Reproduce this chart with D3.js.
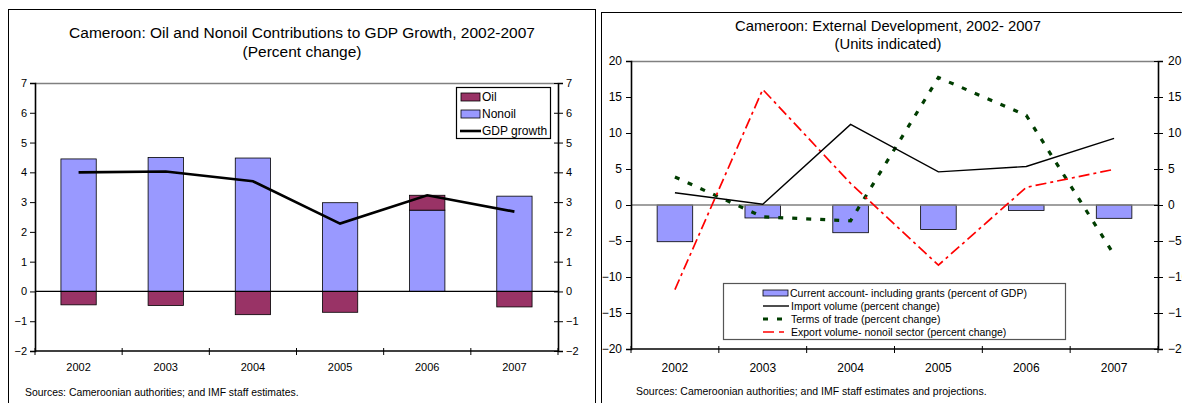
<!DOCTYPE html>
<html>
<head>
<meta charset="utf-8">
<script src="https://cdn.jsdelivr.net/npm/d3@7"></script>
<style>
  html, body { margin: 0; padding: 0; background: #fff; }
  svg { display: block; font-family: "Liberation Sans", Arial, sans-serif; }
</style>
</head>
<body>
<svg id="chart" width="1182" height="403"></svg>
<script>
// Categories shared by both panels
const years = ["2002", "2003", "2004", "2005", "2006", "2007"];

// Panel 1: contributions to GDP growth (percent)
const nonoil = [4.45, 4.50, 4.48, 2.98, 2.73, 3.20];
const oil = [-0.45, -0.47, -0.78, -0.70, 0.50, -0.52];
const gdpGrowth = [4.00, 4.03, 3.70, 2.28, 3.23, 2.68];
const growthTicks = [-2, -1, 0, 1, 2, 3, 4, 5, 6, 7];

// Panel 2: external sector indicators
const currentAccount = [-5.1, -1.8, -3.85, -3.4, -0.75, -1.85];
const importVolume = [1.7, 0.1, 11.2, 4.6, 5.35, 9.25];
const termsOfTrade = [3.9, -1.65, -2.2, 17.7, 12.45, -6.9];
const exportVolume = [-11.75, 16.05, 3.0, -8.35, 2.45, 4.95];
const externalTicks = [-20, -15, -10, -5, 0, 5, 10, 15, 20];

const svg = d3.select("#chart");
const NONOIL = "#9999ff", OIL = "#993366";

// ---------- shared helpers ----------
function frame(x, y, w, h) {
  svg.append("rect").attr("x", x + 0.5).attr("y", y + 0.5)
    .attr("width", w).attr("height", h)
    .attr("fill", "none").attr("stroke", "#000").attr("stroke-width", 1);
}

function title(cx, y1, y2, size, line1, line2) {
  const t = svg.append("text").attr("text-anchor", "middle")
    .attr("font-size", size).attr("fill", "#000");
  t.append("tspan").attr("x", cx).attr("y", y1).text(line1);
  t.append("tspan").attr("x", cx).attr("y", y2).text(line2);
}

function drawAxes(g, x, y, ticks, opts) {
  const [x0, x1] = x.range();
  const [yb, yt] = y.range();
  // plot area top edge
  g.append("line").attr("x1", x0).attr("x2", x1).attr("y1", yt + 0.5).attr("y2", yt + 0.5)
    .attr("stroke", "#808080").attr("stroke-width", 1.3);
  // left axis
  const left = g.append("g").attr("transform", `translate(${x0},0)`)
    .call(d3.axisLeft(y).tickValues(ticks).tickSize(5).tickPadding(opts.padL));
  // right axis (ticks crossing the line)
  const right = g.append("g").attr("transform", `translate(${x1},0)`)
    .call(d3.axisRight(y).tickValues(ticks).tickSize(5).tickPadding(opts.padR));
  right.selectAll(".tick line").attr("x1", -4);
  [left, right].forEach(a => {
    a.select(".domain").attr("stroke", "#000").attr("stroke-width", 1.6);
    a.selectAll(".tick line").attr("stroke", "#000");
    a.selectAll(".tick text").attr("font-size", opts.yFont).attr("fill", "#000")
      .attr("font-family", "Liberation Sans, Arial, sans-serif");
  });
  // bottom axis with ticks at category boundaries
  const bounds = d3.range(years.length + 1).map(i => x0 + i * x.step());
  g.append("line").attr("x1", x0).attr("x2", x1).attr("y1", yb).attr("y2", yb)
    .attr("stroke", "#000").attr("stroke-width", 1.6);
  g.selectAll(null).data(bounds).join("line")
    .attr("x1", d => d).attr("x2", d => d)
    .attr("y1", yb - 3).attr("y2", yb + 4)
    .attr("stroke", "#000");
  g.selectAll(null).data(years).join("text")
    .attr("x", d => x(d) + x.bandwidth() / 2)
    .attr("y", opts.xLabelY)
    .attr("text-anchor", "middle")
    .attr("font-size", opts.xFont)
    .text(d => d);
}

// ================= Panel 1 =================
frame(8, 9, 587, 420);
title(302, 38, 57, 15.5, "Cameroon: Oil and Nonoil Contributions to GDP Growth, 2002-2007", "(Percent change)");

const x1 = d3.scaleBand().domain(years).range([35, 558])
  .paddingInner(0.595).paddingOuter(0.2975);
const y1 = d3.scaleLinear().domain([-2, 7]).range([351, 83]);
const g1 = svg.append("g");

const rows1 = years.map((yr, i) => ({ year: yr, nonoil: nonoil[i], oil: oil[i] }));
const stacked = d3.stack().keys(["nonoil", "oil"]).offset(d3.stackOffsetDiverging)(rows1);
const fills = { nonoil: NONOIL, oil: OIL };

g1.selectAll(".layer").data(stacked).join("g")
  .attr("fill", d => fills[d.key])
  .selectAll("rect").data(d => d).join("rect")
  .attr("x", d => x1(d.data.year))
  .attr("width", x1.bandwidth())
  .attr("y", d => y1(Math.max(d[0], d[1])))
  .attr("height", d => Math.abs(y1(d[0]) - y1(d[1])))
  .attr("stroke", "#000").attr("stroke-width", 0.8);

// zero line
g1.append("line").attr("x1", 35).attr("x2", 558).attr("y1", y1(0)).attr("y2", y1(0))
  .attr("stroke", "#000").attr("stroke-width", 1.2);

drawAxes(g1, x1, y1, growthTicks, { padL: 3, padR: 3, yFont: 11, xFont: 11, xLabelY: 371 });

g1.append("path").datum(gdpGrowth)
  .attr("fill", "none").attr("stroke", "#000").attr("stroke-width", 2.6)
  .attr("d", d3.line().x((d, i) => x1(years[i]) + x1.bandwidth() / 2).y(d => y1(d)));

// legend
const lg1 = svg.append("g");
lg1.append("rect").attr("x", 456.5).attr("y", 87.5).attr("width", 94).attr("height", 51)
  .attr("fill", "#fff").attr("stroke", "#000").attr("stroke-width", 1.2);
const leg1 = [
  { label: "Oil", type: "bar", color: OIL },
  { label: "Nonoil", type: "bar", color: NONOIL },
  { label: "GDP growth", type: "line" }
];
leg1.forEach((d, i) => {
  const cy = 97 + i * 17;
  if (d.type === "bar") {
    lg1.append("rect").attr("x", 461).attr("y", cy - 4).attr("width", 19).attr("height", 8)
      .attr("fill", d.color).attr("stroke", "#000").attr("stroke-width", 0.8);
  } else {
    lg1.append("line").attr("x1", 460).attr("x2", 481).attr("y1", cy).attr("y2", cy)
      .attr("stroke", "#000").attr("stroke-width", 2.6);
  }
  lg1.append("text").attr("x", 482).attr("y", cy + 4).attr("font-size", 12).text(d.label);
});

svg.append("text").attr("x", 25).attr("y", 396).attr("font-size", 10.4)
  .text("Sources: Cameroonian authorities; and IMF staff estimates.");

// ================= Panel 2 =================
frame(601, 12, 620, 420);
title(888, 31, 49, 14.8, "Cameroon: External Development, 2002- 2007", "(Units indicated)");

const x2 = d3.scaleBand().domain(years).range([631, 1158])
  .paddingInner(0.595).paddingOuter(0.2975);
const y2 = d3.scaleLinear().domain([-20, 20]).range([349, 61]);
const g2 = svg.append("g");

g2.selectAll("rect.ca").data(currentAccount).join("rect").attr("class", "ca")
  .attr("x", (d, i) => x2(years[i]))
  .attr("width", x2.bandwidth())
  .attr("y", d => y2(Math.max(0, d)))
  .attr("height", d => Math.abs(y2(d) - y2(0)))
  .attr("fill", NONOIL).attr("stroke", "#000").attr("stroke-width", 0.8);

g2.append("line").attr("x1", 631).attr("x2", 1158).attr("y1", y2(0)).attr("y2", y2(0))
  .attr("stroke", "#808080").attr("stroke-width", 1.3);

drawAxes(g2, x2, y2, externalTicks, { padL: 4, padR: 5, yFont: 12, xFont: 12, xLabelY: 372 });

const cx2 = i => x2(years[i]) + x2.bandwidth() / 2;
const line2 = d3.line().x((d, i) => cx2(i)).y(d => y2(d));
const series2 = [
  { values: termsOfTrade, color: "#003d00", width: 3.2, dash: "5,9", label: "Terms of trade (percent change)" },
  { values: exportVolume, color: "#ff0000", width: 1.7, dash: "11,4,3,4", label: "Export volume- nonoil sector (percent change)" },
  { values: importVolume, color: "#000", width: 1.4, dash: null, label: "Import volume (percent change)" }
];
series2.forEach(s => {
  g2.append("path").datum(s.values)
    .attr("fill", "none").attr("stroke", s.color).attr("stroke-width", s.width)
    .attr("stroke-dasharray", s.dash)
    .attr("d", line2);
});

// legend
const lg2 = svg.append("g");
lg2.append("rect").attr("x", 723.5).attr("y", 283.5).attr("width", 342).attr("height", 56)
  .attr("fill", "#fff").attr("stroke", "#555").attr("stroke-width", 1.2);
const leg2 = [
  { label: "Current account- including grants (percent of GDP)", type: "bar" },
  series2[2], series2[0], series2[1]
];
leg2.forEach((d, i) => {
  const cy = 293 + i * 13;
  if (d.type === "bar") {
    lg2.append("rect").attr("x", 763).attr("y", cy - 3).attr("width", 25).attr("height", 6)
      .attr("fill", NONOIL).attr("stroke", "#000").attr("stroke-width", 0.8);
  } else {
    lg2.append("line").attr("x1", 763).attr("x2", 789).attr("y1", cy).attr("y2", cy)
      .attr("stroke", d.color).attr("stroke-width", d.width)
      .attr("stroke-dasharray", d.dash ? (d.color === "#ff0000" ? "11,5,5,5" : "5,9") : null);
  }
  lg2.append("text").attr("x", d.type === "bar" ? 790 : 791).attr("y", cy + 3.5)
    .attr("font-size", 10.5).text(d.label);
});

svg.append("text").attr("x", 636).attr("y", 395).attr("font-size", 10.5)
  .text("Sources: Cameroonian authorities; and IMF staff estimates and projections.");
</script>
</body>
</html>
